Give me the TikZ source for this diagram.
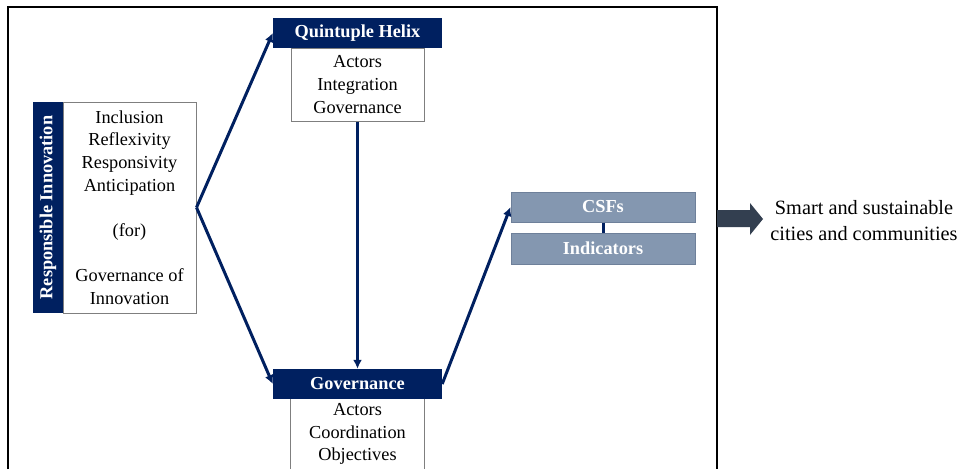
\documentclass[tikz,border=0pt]{standalone}
\usepackage{fontspec}
\setmainfont{Liberation Serif}
\usetikzlibrary{arrows.meta}
\definecolor{navy}{HTML}{002060}
\definecolor{csfblue}{HTML}{8497B0}
\definecolor{csfedge}{HTML}{6E809A}
\definecolor{slate}{HTML}{333F50}
\definecolor{boxedge}{HTML}{7F7F7F}
\begin{document}
\begin{tikzpicture}[x=1pt,y=-1pt,
  hdr/.style={fill=navy,text=white,inner sep=0pt,font=\fontsize{18.3}{22.6}\selectfont\bfseries},
  body/.style={draw=boxedge,line width=1pt,inner sep=0pt,align=center,font=\fontsize{18.3}{22.6}\selectfont},
  csfbox/.style={fill=csfblue,draw=csfedge,line width=1pt,inner sep=0pt,text=white,font=\fontsize{18.3}{22.6}\selectfont\bfseries,minimum width=184pt},
  link/.style={draw=navy,line width=3pt,-{Latex[length=9pt,width=9pt]}},
  plain/.style={draw=navy,line width=3pt}
]
\useasboundingbox (0,0) rectangle (959,469);
\fill[white] (0,0) rectangle (959,469);
% outer frame
\draw[line width=1.4pt,black] (8,469) -- (8,7) -- (717,7) -- (717,469);

% Responsible innovation
\node[hdr,rotate=90,minimum width=211pt,minimum height=30pt] (ri) at (48,207.5) {Responsible Innovation};
\node[body,minimum width=133pt,minimum height=211pt] (rib) at (129.5,207.5)
  {Inclusion\\Reflexivity\\Responsivity\\Anticipation\\[22.6pt](for)\\[22.6pt]Governance of\\Innovation};

% Quintuple helix
\node[hdr,minimum width=169pt,minimum height=30pt] (qh) at (357.5,33) {Quintuple Helix};
\node[body,minimum width=133pt,minimum height=73pt] (qb) at (357.5,84.5)
  {Actors\\Integration\\Governance};

% Governance
\node[inner sep=0pt,align=center,font=\fontsize{18.3}{22.6}\selectfont,minimum width=133pt,minimum height=70pt] (gb) at (357.5,434)
  {Actors\\Coordination\\Objectives};
\draw[boxedge,line width=1pt] (gb.north west) -- (gb.south west);
\draw[boxedge,line width=1pt] (gb.north east) -- (gb.south east);
\node[hdr,minimum width=169pt,minimum height=30pt] (gh) at (357.5,384) {Governance};

% CSFs and indicators
\node[csfbox,minimum height=30pt] (csf) at (603,207) {CSFs};
\node[csfbox,minimum height=31pt] (ind) at (603,248.5) {Indicators};
\draw[plain] (csf.south) -- (ind.north);

% connectors
\draw[link] (rib.east) -- (qh.west);
\draw[link] (rib.east) -- (gh.west);
\draw[link] (qb.south) -- (gh.north);
\draw[link] (gh.east) -- (csf.west);

% block arrow
\fill[slate] (717,210) -- (750,210) -- (750,203) -- (763,219) -- (750,235) -- (750,227) -- (717,227) -- cycle;

% outcome
\node[inner sep=0pt,align=center,font=\fontsize{20.3}{26}\selectfont] (out) at (864,221)
  {Smart and sustainable\\cities and communities};
\end{tikzpicture}
\end{document}
